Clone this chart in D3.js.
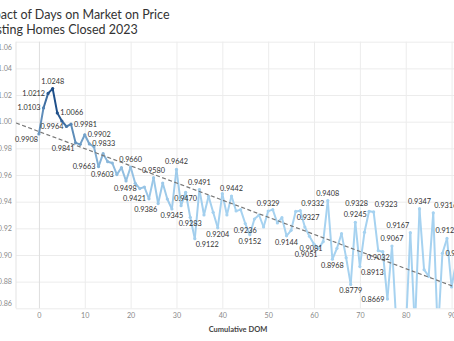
<!DOCTYPE html>
<html><head><meta charset="utf-8">
<script src="https://cdn.jsdelivr.net/npm/d3@7/dist/d3.min.js"></script>
<style>body{margin:0;background:#fff;overflow:hidden}svg{display:block}</style>
</head><body>
<svg id="c" width="454" height="341"></svg>
<script>
// ---------------- data ----------------
const titleLines = ["Impact of Days on Market on Price", "Existing Homes Closed 2023"];
const xAxisTitle = "Cumulative DOM";
const dom = [0,1,2,3,4,5,6,7,8,9,10,11,12,13,14,15,16,17,18,19,20,21,22,23,24,25,26,27,28,29,
  30,31,32,33,34,35,36,37,38,39,40,41,42,43,44,45,46,47,48,49,50,51,52,53,54,55,56,57,58,59,
  60,61,62,63,64,65,66,67,68,69,70,71,72,73,74,75,76,77,78,79,80,81,82,83,84,85,86,87,88,89,90,91];
const priceRatio = [0.9908,1.0103,1.0212,1.0248,1.0066,1.0005,0.9964,0.9981,0.9841,0.9830,
  0.9902,0.9833,0.9812,0.9663,0.9760,0.9700,0.9690,0.9603,0.9655,0.9555,
  0.9660,0.9538,0.9498,0.9510,0.9421,0.9580,0.9386,0.9540,0.9420,0.9345,
  0.9642,0.9370,0.9470,0.9283,0.9122,0.9491,0.9300,0.9440,0.9320,0.9204,
  0.9460,0.9300,0.9442,0.9330,0.9340,0.9236,0.9152,0.9270,0.9300,0.9210,
  0.9329,0.9340,0.9240,0.9280,0.9144,0.9185,0.9327,0.9332,0.9210,0.9140,
  0.9081,0.9051,0.9100,0.9408,0.8968,0.9050,0.9160,0.8980,0.8779,0.9245,
  0.8913,0.9170,0.9328,0.9323,0.9032,0.9025,0.8669,0.9067,0.8450,0.8500,
  0.8420,0.9167,0.8450,0.9347,0.8890,0.8840,0.9316,0.8400,0.9013,0.9124,
  0.8760,0.8950];
const closings = [420,560,820,900,860,760,620,540,460,400,360,330,300,270,250,230,215,200,190,180,
  170,160,150,142,135,128,122,116,110,105,100,96,92,88,84,80,77,74,71,68,
  65,62,60,58,56,54,52,50,48,46,44,42,40,39,38,37,36,35,34,33,
  32,31,30,29,28,27,26,25,24,23,22,21,20,19,18,18,17,17,16,16,
  15,15,14,14,13,13,12,12,11,11,10,10];
const trendIntercept = 0.9926;
const trendSlope = -0.001285;
const yTicks = [0.86,0.88,0.90,0.92,0.94,0.96,0.98,1.00,1.02,1.04,1.06];
const xTicks = [0,10,20,30,40,50,60,70,80,90];
// label placement by DOM (a=above, b=below, l=left, r=right, combos)
const labelPlacement = {0:"bl",1:"l",2:"l",3:"a",4:"r",6:"l",7:"r",8:"bl",10:"r",11:"r",13:"l",
  17:"l",20:"a",22:"l",24:"l",25:"a",26:"bl",29:"b",30:"a",32:"b",33:"b",34:"br",35:"a",39:"b",
  42:"a",45:"b",46:"b",50:"a",54:"b",56:"br",57:"ar",60:"bn",61:"bl",63:"a",64:"b",68:"b",69:"a",
  70:"br",72:"al",73:"ar",74:"b",76:"l",77:"a",81:"al",83:"a",86:"ar",88:"r",89:"a"};

// ---------------- layout ----------------
const svg = d3.select("#c");
const L = 16, R = 458, T = 41.7, B = 308.3;
const x = d3.scaleLinear().domain([-5, 91.4]).range([L, R]);
const y = d3.scaleLinear().domain([0.86, 1.06]).range([B, T]);
const col = d3.scaleLinear().domain([60, 900]).range(["#a6d2f0", "#1b4c86"]).clamp(true).interpolate(d3.interpolateRgb);
const font = "Lato, 'Liberation Sans', Arial, sans-serif";

// title
svg.append("g").selectAll("text").data(titleLines).join("text")
  .attr("x", -20).attr("y", (d,i) => 19 + i*15.3)
  .attr("font-family", font).attr("font-size", 12.5).attr("fill", "#333")
  .text(d => d);

// y axis + horizontal grid
const yAxis = svg.append("g").attr("transform", `translate(${L},0)`)
  .call(d3.axisLeft(y).tickValues(yTicks).tickSize(-(R-L)).tickPadding(4).tickFormat(d3.format(".2f")));
yAxis.select(".domain").remove();
yAxis.selectAll(".tick line").attr("stroke", "#ececec");
yAxis.selectAll(".tick text").attr("font-family", font).attr("font-size", 7.2).attr("fill", "#8a8a8a")
  .attr("dy", d => d === 1.06 ? "1.05em" : d === 0.86 ? "-0.45em" : "0.32em");

// x axis + vertical grid
const xAxis = svg.append("g").attr("transform", `translate(0,${B})`)
  .call(d3.axisBottom(x).tickValues(xTicks).tickSize(-(B-T)).tickPadding(5));
xAxis.select(".domain").remove();
xAxis.selectAll(".tick line").attr("stroke", d => d === 0 ? "#dedede" : "#ececec");
xAxis.selectAll(".tick text").attr("font-family", font).attr("font-size", 7.2).attr("fill", "#8a8a8a");
svg.append("line").attr("x1", L).attr("x2", L).attr("y1", T).attr("y2", B).attr("stroke", "#e3e3e3");

svg.append("text").attr("x", 238).attr("y", 331.5).attr("text-anchor", "middle")
  .attr("font-family", font).attr("font-size", 7.5).attr("font-weight", 700).attr("fill", "#444")
  .text(xAxisTitle);

// clip
svg.append("clipPath").attr("id", "pane").append("rect")
  .attr("x", L).attr("y", T).attr("width", R-L).attr("height", B-T);
const pane = svg.append("g").attr("clip-path", "url(#pane)");

const pts = dom.map((d,i) => ({d, v: priceRatio[i], c: closings[i]}));
// line segments coloured by closings
const segs = pts.slice(1).map((p,i) => [pts[i], p]);
pane.append("g").selectAll("path").data(segs).join("path")
  .attr("d", s => d3.line().x(p => x(p.d)).y(p => y(p.v))(s))
  .attr("fill", "none").attr("stroke", s => col((s[0].c + s[1].c)/2))
  .attr("stroke-width", 2).attr("stroke-linecap", "round");
pane.append("g").selectAll("circle").data(pts).join("circle")
  .attr("cx", p => x(p.d)).attr("cy", p => y(p.v)).attr("r", 1.6)
  .attr("fill", p => col(p.c));

// trend line
const xd = x.domain();
pane.append("line")
  .attr("x1", x(xd[0])).attr("y1", y(trendIntercept + trendSlope*xd[0]))
  .attr("x2", x(xd[1])).attr("y2", y(trendIntercept + trendSlope*xd[1]))
  .attr("stroke", "#777").attr("stroke-width", 1.2).attr("stroke-dasharray", "4,2.5");

// labels
const place = {
  a:  {dx:0,  dy:-5, a:"middle"}, b:  {dx:0,  dy:9,  a:"middle"},
  bn: {dx:-3, dy:6.5,a:"middle"},
  l:  {dx:-3, dy:2.5,a:"end"},    r:  {dx:3,  dy:2.5,a:"start"},
  al: {dx:-1, dy:-5, a:"end"},    ar: {dx:1,  dy:-5, a:"start"},
  bl: {dx:-1, dy:8.5,a:"end"},    br: {dx:1,  dy:8.5,a:"start"}
};
const lab = pts.filter(p => labelPlacement[p.d]);
svg.append("g").selectAll("text").data(lab).join("text")
  .attr("x", p => x(p.d) + place[labelPlacement[p.d]].dx)
  .attr("y", p => y(p.v) + place[labelPlacement[p.d]].dy)
  .attr("text-anchor", p => place[labelPlacement[p.d]].a)
  .attr("font-family", font).attr("font-size", 7.3).attr("fill", "#333")
  .text(p => p.v.toFixed(4));
</script>
</body></html>
